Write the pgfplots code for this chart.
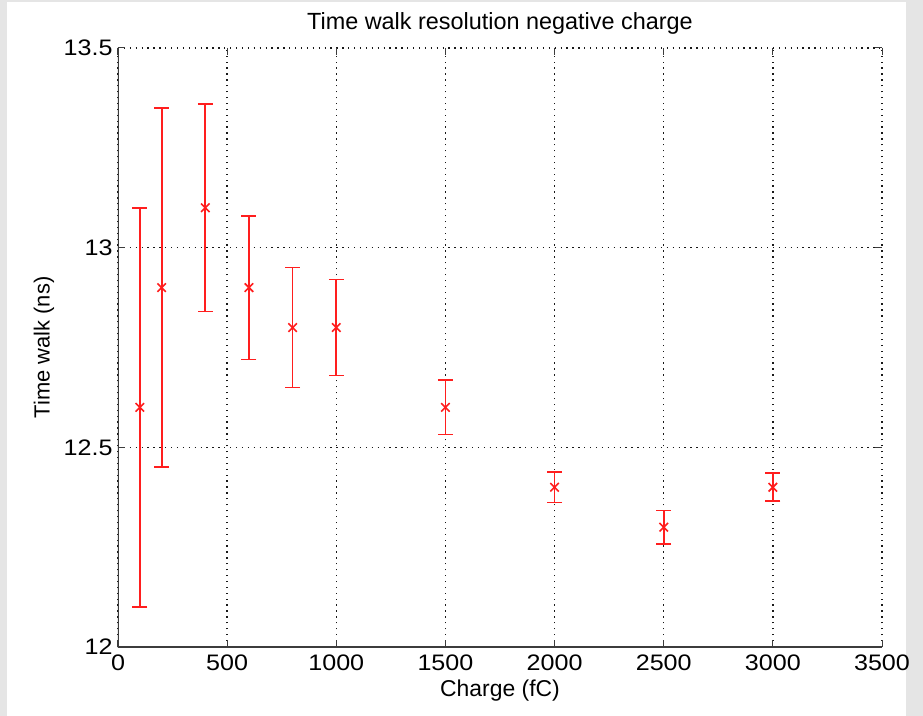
\documentclass[border=0pt]{standalone}
\usepackage{pgfplots}
\pgfplotsset{compat=1.18}
\usepackage{fontspec}
\setmainfont{Liberation Sans}
\newfontfamily\tickfont[FakeStretch=1.12]{Liberation Sans}
\definecolor{errred}{RGB}{255,30,30}
\definecolor{axgray}{RGB}{60,60,60}
\begin{document}
\begin{tikzpicture}
\fill[black!10] (-118bp,-69bp) rectangle (805bp,647bp);
\fill[white] (-111bp,-69bp) rectangle (788bp,645bp);
\begin{axis}[
  scale only axis,
  width=764bp, height=599bp,
  xmin=0, xmax=3500, ymin=12, ymax=13.5,
  xtick={0,500,...,3500},
  ytick={12,12.5,13,13.5},
  /pgf/number format/assume math mode=true,
  /pgf/number format/1000 sep={},
  font=\fontsize{22}{26}\selectfont,
  tick label style={font=\tickfont\fontsize{22.5}{26}\selectfont},
  xticklabel style={yshift=-4bp},
  yticklabel style={xshift=-2bp},
  axis line style={draw=none},
  tick pos=both, tick align=inside,
  major tick length=7bp,
  tick style={axgray, line width=1bp},
  grid=major,
  major grid style={black!90, line width=1.4bp, dash pattern=on 1.3bp off 4.6bp},
  title={Time walk resolution negative charge},
  title style={at={(axis description cs:0.5,1.031)}, anchor=center, font=\fontsize{23.5}{27}\selectfont},
  xlabel={Charge (fC)},
  xlabel style={at={(axis description cs:0.5,-0.0735)}, anchor=center, font=\fontsize{23}{27}\selectfont},
  ylabel={Time walk (ns)},
  ylabel style={at={(axis description cs:-0.097,0.5)}, anchor=center, rotate=0},
]
\addplot[errred, line width=1.6bp, only marks, mark=x, mark size=6bp,
  error bars/.cd, y dir=both, y explicit,
  error bar style={draw=errred, solid, line width=1.7bp},
  error mark options={draw=errred, solid, line width=1.7bp, mark size=7.5bp, rotate=90}]
  coordinates {
  (100,12.6) +- (0,0.5)
  (200,12.9) +- (0,0.45)
  (400,13.1) +- (0,0.26)
  (600,12.9) +- (0,0.18)
  (800,12.8) +- (0,0.15)
  (1000,12.8) +- (0,0.12)
  (1500,12.6) +- (0,0.068)
  (2000,12.4) +- (0,0.038)
  (2500,12.3) +- (0,0.042)
  (3000,12.4) +- (0,0.035)
  };
\draw[axgray, line width=1.5bp] (rel axis cs:0,1) -- (rel axis cs:0,0) -- (rel axis cs:1,0);
\end{axis}
\end{tikzpicture}
\end{document}
